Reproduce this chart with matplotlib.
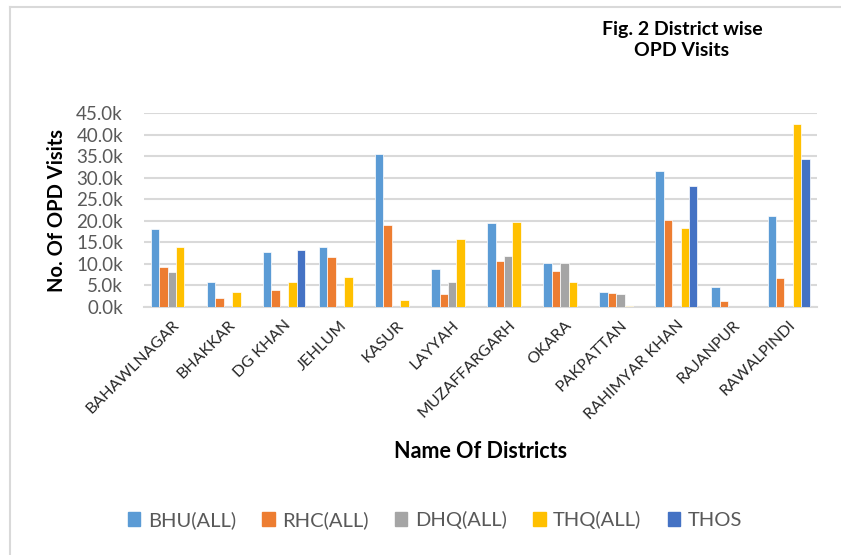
import matplotlib
matplotlib.use("Agg")
import matplotlib.pyplot as plt
import numpy as np
from matplotlib.ticker import FuncFormatter, MultipleLocator
from matplotlib.lines import Line2D

plt.rcParams['font.family'] = ['Lato', 'DejaVu Sans']

districts = ["BAHAWLNAGAR", "BHAKKAR", "DG KHAN", "JEHLUM", "KASUR", "LAYYAH",
             "MUZAFFARGARH", "OKARA", "PAKPATTAN", "RAHIMYAR KHAN", "RAJANPUR", "RAWALPINDI"]
series_names = ["BHU(ALL)", "RHC(ALL)", "DHQ(ALL)", "THQ(ALL)", "THOS"]
bhu  = [18000, 5900, 12650, 13950, 35500, 8850, 19400, 10100, 3350, 31500, 4650, 21200]
rhc  = [9300, 2150, 3950, 11550, 19000, 3100, 10600, 8450, 3250, 20200, 1400, 6750]
dhq  = [8050, 0, 0, 0, 0, 5900, 11800, 10150, 3100, 0, 0, 0]
thq  = [13950, 3500, 5900, 6900, 1700, 15750, 19700, 5750, 150, 18400, 0, 42400]
thos = [0, 0, 13300, 0, 0, 0, 0, 0, 0, 28100, 0, 34300]
colors = ["#5B9BD5", "#ED7D31", "#A5A5A5", "#FFC000", "#4472C4"]

fig = plt.figure(figsize=(8.41, 5.55), dpi=100)
ax = fig.add_axes([0.171, 0.447, 0.800, 0.349])

x = np.arange(len(districts))
slot = 0.15
allv = [bhu, rhc, dhq, thq, thos]
for i, (vals, c, n) in enumerate(zip(allv, colors, series_names)):
    ax.bar(x + (i - 2) * slot, vals, width=slot, color=c, edgecolor="white",
           linewidth=0.5, label=n, zorder=3)

ax.set_xlim(-0.5, len(districts) - 0.5)
ax.set_ylim(0, 45000)
ax.yaxis.set_major_locator(MultipleLocator(5000))
ax.yaxis.set_major_formatter(FuncFormatter(lambda v, p: f"{v/1000:.1f}k"))
ax.grid(axis="y", color="#D9D9D9", linewidth=1.5, zorder=0)
for s in ["top", "right", "left"]:
    ax.spines[s].set_visible(False)
ax.spines["bottom"].set_color("#D9D9D9")
ax.spines["bottom"].set_linewidth(1.5)
ax.tick_params(axis="y", length=0, labelsize=13.5, labelcolor="#595959", pad=15)
ax.tick_params(axis="x", length=0, labelsize=11.5, labelcolor="#262626", pad=8)
ax.set_xticks(x)
ax.set_xticklabels(districts, rotation=45, ha="right", rotation_mode="anchor")

fig.text(0.068, 0.620, "No. Of OPD Visits", rotation=90, ha="center", va="center",
         fontsize=14.5, fontweight="bold")
fig.text(0.572, 0.186, "Name Of Districts", ha="center", va="center",
         fontsize=15.5, fontweight="bold")
fig.text(0.811, 0.928, "Fig. 2 District wise\nOPD Visits", ha="center", va="center",
         fontsize=14, fontweight="bold", linespacing=1.25)

handles = [plt.Rectangle((0, 0), 1, 1, color=c) for c in colors]
leg = fig.legend(handles, series_names, loc="center", bbox_to_anchor=(0.517, 0.063),
                 ncol=5, frameon=False, fontsize=14.5, handlelength=0.63, handleheight=0.63,
                 handletextpad=0.37, columnspacing=1.3, borderpad=0, borderaxespad=0)
for t in leg.get_texts():
    t.set_color("#595959")

fig.add_artist(Line2D([0.012, 1.0], [0.987, 0.987], color="#D9D9D9", linewidth=1.5,
                      transform=fig.transFigure))
fig.add_artist(Line2D([0.012, 0.012], [0.0, 0.987], color="#D9D9D9", linewidth=1.5,
                      transform=fig.transFigure))

fig.savefig("out.png", dpi=100)
